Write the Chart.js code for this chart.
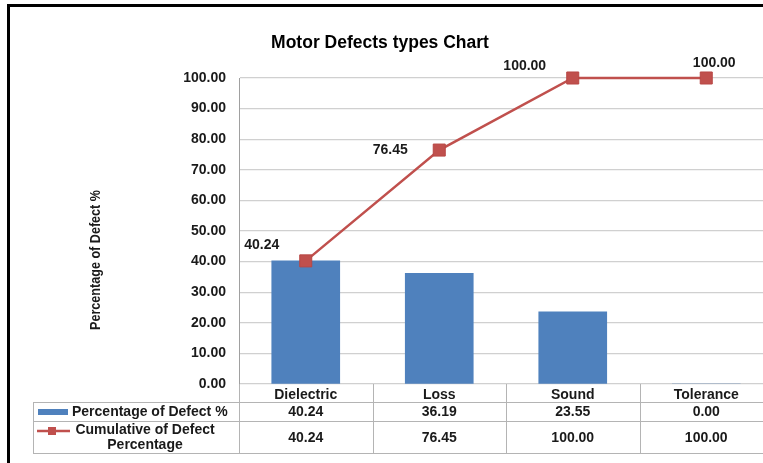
<!DOCTYPE html>
<html><head><meta charset="utf-8">
<script src="https://cdn.jsdelivr.net/npm/chart.js@4.4.1/dist/chart.umd.min.js"></script>
<style>
html,body{margin:0;padding:0;background:#fff;overflow:hidden;width:763px;height:463px;}
#wrap{position:relative;width:780px;height:463px;}
canvas{display:block;}
</style></head><body>
<div id="wrap"><canvas id="c" width="780" height="463"></canvas></div>
<script>
const chartTitle = 'Motor Defects types Chart';
const yAxisTitle = 'Percentage of Defect %';
const categories = ['Dielectric', 'Loss', 'Sound', 'Tolerance'];
const percentValues = [40.24, 36.19, 23.55, 0.00];
const cumulativeValues = [40.24, 76.45, 100.00, 100.00];
const seriesNames = ['Percentage of Defect %', 'Cumulative of Defect Percentage'];
const yTickLabels = ['0.00','10.00','20.00','30.00','40.00','50.00','60.00','70.00','80.00','90.00','100.00'];

const FONT = "'Liberation Sans', Arial, Helvetica, sans-serif";
const BLUE = '#4f81bd', RED = '#c0504d', TEXT = '#1a1a1a', LINE = '#b4b4b4';

const extras = {
  id: 'extras',
  afterDraw(chart) {
    const ctx = chart.ctx, xs = chart.scales.x, area = chart.chartArea;
    ctx.save();
    // outer frame
    ctx.fillStyle = '#000';
    ctx.fillRect(7, 4, 3, 463);
    ctx.fillRect(7, 4, 800, 3);
    // y axis title
    ctx.save();
    ctx.translate(96, 260);
    ctx.rotate(-Math.PI / 2);
    ctx.scale(1, 1.15);
    ctx.font = 'bold 12.6px ' + FONT;
    ctx.fillStyle = TEXT;
    ctx.textAlign = 'center';
    ctx.textBaseline = 'middle';
    ctx.fillText(yAxisTitle, 0, 0);
    ctx.restore();
    // data table
    const step = xs.getPixelForValue(1) - xs.getPixelForValue(0);
    const bounds = [];
    for (let i = 0; i <= categories.length; i++) bounds.push(xs.getPixelForValue(0) - step / 2 + i * step);
    const rowLines = [402, 421, 453];
    const tableLeft = 33;
    ctx.strokeStyle = LINE;
    ctx.lineWidth = 1;
    ctx.beginPath();
    bounds.forEach(b => { ctx.moveTo(Math.round(b) + 0.5, area.bottom); ctx.lineTo(Math.round(b) + 0.5, rowLines[2]); });
    ctx.moveTo(tableLeft + 0.5, rowLines[0]); ctx.lineTo(tableLeft + 0.5, rowLines[2]);
    rowLines.forEach(y => { ctx.moveTo(tableLeft, y + 0.5); ctx.lineTo(bounds[bounds.length - 1], y + 0.5); });
    ctx.stroke();
    // legend keys
    ctx.fillStyle = BLUE;
    ctx.fillRect(38, 409, 30, 6);
    ctx.strokeStyle = RED; ctx.lineWidth = 2.5;
    ctx.beginPath(); ctx.moveTo(37, 431); ctx.lineTo(70, 431); ctx.stroke();
    ctx.fillStyle = RED;
    ctx.fillRect(48, 427, 8, 8);
    // legend texts
    ctx.fillStyle = TEXT;
    ctx.font = 'bold 14px ' + FONT;
    ctx.textBaseline = 'middle';
    ctx.textAlign = 'left';
    ctx.fillText(seriesNames[0], 72, 412);
    ctx.textAlign = 'center';
    const words = seriesNames[1].split(' ');
    const line1 = words.slice(0, 3).join(' '), line2 = words.slice(3).join(' ');
    ctx.fillText(line1, 145, 430);
    ctx.fillText(line2, 145, 445);
    // values
    categories.forEach((c, i) => {
      const x = xs.getPixelForValue(i);
      ctx.fillText(percentValues[i].toFixed(2), x, 412);
      ctx.fillText(cumulativeValues[i].toFixed(2), x, 438);
    });
    // point labels
    const offs = chart.options.plugins.extras.labelOffsets;
    const meta = chart.getDatasetMeta(0);
    meta.data.forEach((p, i) => {
      ctx.fillText(cumulativeValues[i].toFixed(2), p.x + offs[i][0], p.y + offs[i][1]);
    });
    ctx.restore();
  }
};

new Chart(document.getElementById('c'), {
  type: 'bar',
  data: {
    labels: categories,
    datasets: [
      {
        type: 'line', label: seriesNames[1], data: cumulativeValues,
        borderColor: RED, backgroundColor: RED, borderWidth: 2.5,
        pointStyle: 'rect', pointRadius: 8.5, pointHoverRadius: 8.5,
        pointBackgroundColor: RED, pointBorderColor: '#b84744', pointBorderWidth: 1,
        order: 0, clip: false
      },
      {
        type: 'bar', label: seriesNames[0], data: percentValues,
        backgroundColor: BLUE, barThickness: 68, order: 1
      }
    ]
  },
  options: {
    responsive: false, animation: false, devicePixelRatio: 1, events: [],
    layout: { padding: { left: -13, right: 7, top: 0, bottom: 0 }, autoPadding: false },
    plugins: {
      legend: { display: false }, tooltip: { enabled: false },
      title: {
        display: true, text: chartTitle, color: '#000',
        font: { family: FONT, size: 17.5, weight: 'bold' },
        padding: { top: 32.5, bottom: 24.5 }
      },
      extras: { labelOffsets: [[-44, -16], [-49, 0], [-48, -12], [8, -14.5]] }
    },
    scales: {
      x: {
        offset: true,
        grid: { display: false, drawTicks: false },
        border: { display: false },
        ticks: { color: TEXT, font: { family: FONT, size: 14, weight: 'bold' }, padding: 3, maxRotation: 0, autoSkip: false },
        afterFit: s => { s.height = 79; }
      },
      y: {
        min: 0, max: 100,
        grid: { color: '#d0d0d0', lineWidth: 1.2, drawTicks: false },
        border: { display: true, color: '#a0a0a0', width: 1 },
        ticks: {
          stepSize: 10, color: TEXT, padding: 13,
          font: { family: FONT, size: 14, weight: 'bold' },
          callback: (v, i) => yTickLabels[i]
        },
        afterFit: s => { s.width = 252; }
      }
    }
  },
  plugins: [extras]
});
</script>
</body></html>
